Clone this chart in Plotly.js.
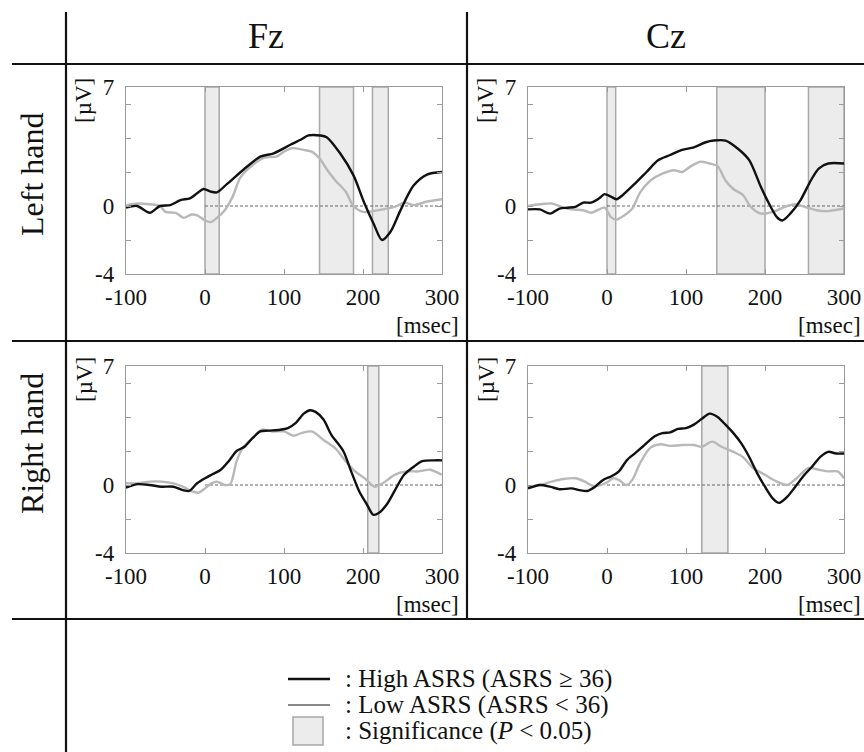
<!DOCTYPE html>
<html>
<head>
<meta charset="utf-8">
<script src="https://cdn.plot.ly/plotly-3.0.1.min.js"></script>
<style>
html,body{margin:0;padding:0;background:#fff;}
#chart{width:864px;height:752px;}
</style>
</head>
<body>
<div id="chart"></div>
<script>
// ---------- DATA ----------
const columnLabels = ["Fz", "Cz"];
const rowLabels = ["Left hand", "Right hand"];
const xTicks = [-100, 0, 100, 200, 300];
const yTicks = [-4, -2, 0, 2, 4, 6, 7];
const yTickText = ["-4", "", "0", "", "", "", "7"];

// Fz, Left hand
const fzLeftHighT = [-100,-86,-70,-57,-44,-31,-19,-10,-2,7,15,28,49,70,87,108,121,131,146,154,171,188,201,214,224,235,247,264,281,300];
const fzLeftHighV = [-0.1,0.0,-0.4,0,0.05,0.35,0.45,0.75,1.0,0.85,0.8,1.3,2.15,2.9,3.1,3.6,3.9,4.15,4.15,4.05,3.1,1.8,0.25,-1.1,-2.0,-1.5,-0.3,1.2,1.85,2.0];
const fzLeftLowT = [-100,-85,-70,-57,-50,-37,-27,-17,-10,0,7,15,25,35,45,60,75,90,100,110,125,135,145,155,165,178,188,200,212,225,240,252,265,280,300];
const fzLeftLowV = [0.05,0.15,0.1,0,-0.35,-0.4,-0.7,-0.5,-0.55,-0.85,-0.95,-0.7,-0.25,0.55,1.7,2.4,2.85,2.9,3.2,3.4,3.3,3.2,2.8,2.1,1.5,0.85,0,-0.35,-0.3,-0.2,-0.05,0.2,0.05,0.25,0.4];
const fzLeftSigStart = [0, 145, 212];
const fzLeftSigEnd = [18, 188, 232];

// Cz, Left hand
const czLeftHighT = [-100,-85,-72,-60,-50,-40,-30,-20,-10,-3,5,12,20,35,50,65,80,95,110,125,135,150,165,180,195,205,215,222,232,245,258,268,280,300];
const czLeftHighV = [-0.2,-0.2,-0.45,-0.15,-0.1,-0.05,0.2,0.2,0.45,0.7,0.55,0.4,0.65,1.3,2.0,2.7,3.0,3.3,3.45,3.75,3.85,3.85,3.4,2.7,1.1,0.15,-0.65,-0.85,-0.45,0.35,1.5,2.2,2.5,2.5];
const czLeftLowT = [-100,-85,-70,-58,-45,-30,-20,-10,-3,5,12,22,32,42,55,70,85,95,105,118,130,140,150,160,172,182,195,210,225,238,250,265,280,300];
const czLeftLowV = [0,0.1,0.15,-0.05,-0.2,-0.25,-0.4,-0.2,-0.1,-0.65,-0.8,-0.55,-0.15,0.8,1.5,1.9,2.1,2.0,2.3,2.6,2.5,2.35,1.5,1.0,0.65,-0.05,-0.45,-0.35,-0.05,0.1,-0.05,-0.25,-0.3,-0.15];
const czLeftSigStart = [0, 139, 255];
const czLeftSigEnd = [11, 200, 300];

// Fz, Right hand
const fzRightHighT = [-100,-85,-70,-55,-40,-28,-20,-10,0,10,20,30,40,50,60,70,80,95,105,115,125,133,140,150,160,175,185,195,205,213,220,230,240,252,265,275,290,300];
const fzRightHighV = [-0.15,0.05,0,-0.1,-0.1,-0.3,-0.35,0.1,0.4,0.65,0.9,1.4,2.0,2.25,2.75,3.15,3.2,3.25,3.35,3.65,4.2,4.4,4.3,3.85,2.95,2.0,0.8,-0.35,-1.15,-1.75,-1.65,-1.15,-0.35,0.6,1.1,1.4,1.45,1.45];
const fzRightLowT = [-100,-85,-70,-55,-40,-28,-18,-8,0,8,15,25,32,40,48,60,72,85,100,112,122,135,150,165,178,190,202,215,225,240,255,270,285,300];
const fzRightLowV = [0.1,0.1,0.2,0.2,0.1,-0.1,-0.35,-0.45,-0.2,0.1,0.2,0,0.05,1.4,2.2,2.75,3.25,3.15,3.15,2.9,3.05,3.15,2.65,2.15,1.4,0.8,0.4,-0.1,0.1,0.6,0.8,0.8,0.9,0.6];
const fzRightSigStart = [206];
const fzRightSigEnd = [220];

// Cz, Right hand
const czRightHighT = [-100,-85,-72,-60,-45,-35,-25,-15,-5,5,15,25,35,45,60,70,80,90,100,110,120,130,140,150,160,170,180,190,200,210,218,228,240,250,260,270,280,290,300];
const czRightHighV = [-0.2,0,-0.1,-0.25,-0.2,-0.3,-0.35,-0.1,0.3,0.5,0.8,1.45,1.85,2.25,2.85,3.05,3.1,3.3,3.35,3.55,3.9,4.2,4.0,3.55,3.05,2.45,1.65,0.7,-0.1,-0.8,-1.05,-0.7,0,0.6,1.1,1.65,1.95,1.85,1.85];
const czRightLowT = [-100,-85,-70,-55,-40,-28,-18,-8,0,8,15,25,32,42,55,68,80,95,110,120,133,145,160,172,185,200,215,228,240,255,268,280,292,300];
const czRightLowV = [-0.1,0,0.2,0.35,0.4,0.2,-0.05,0,0.15,0.4,0.3,0,0.3,1.3,2.2,2.4,2.3,2.35,2.35,2.25,2.55,2.25,1.95,1.65,1.0,0.6,0.2,0,0.4,1.0,0.9,0.8,0.8,0.4];
const czRightSigStart = [120];
const czRightSigEnd = [153];

const legendLabels = [": High ASRS (ASRS \u2265 36)", ": Low ASRS (ASRS < 36)", ": Significance (<i>P</i> < 0.05)"];

// ---------- LAYOUT HELPERS ----------
const W = 864, H = 752;
const px = v => v / W;
const py = v => 1 - v / H;
const FONT = "'Liberation Serif', 'Times New Roman', serif";
const HIGH_COLOR = "#111111";
const LOW_COLOR = "#b8b8b8";
const SIG_FILL = "#ececec";
const SIG_LINE = "#a8a8a8";
const FRAME = "#9a9a9a";
const TICK_SIZE = 23;

const panels = [
  {ax: "", highT: fzLeftHighT, highV: fzLeftHighV, lowT: fzLeftLowT, lowV: fzLeftLowV, s0: fzLeftSigStart, s1: fzLeftSigEnd, xd: [126, 442], yd: [87, 274]},
  {ax: "2", highT: czLeftHighT, highV: czLeftHighV, lowT: czLeftLowT, lowV: czLeftLowV, s0: czLeftSigStart, s1: czLeftSigEnd, xd: [528, 844], yd: [87, 274]},
  {ax: "3", highT: fzRightHighT, highV: fzRightHighV, lowT: fzRightLowT, lowV: fzRightLowV, s0: fzRightSigStart, s1: fzRightSigEnd, xd: [126, 442], yd: [366, 553]},
  {ax: "4", highT: czRightHighT, highV: czRightHighV, lowT: czRightLowT, lowV: czRightLowV, s0: czRightSigStart, s1: czRightSigEnd, xd: [528, 844], yd: [366, 553]}
];

const traces = [];
const shapes = [];
const annotations = [];
const layout = {
  width: W, height: H,
  margin: {l: 0, r: 0, t: 0, b: 0},
  paper_bgcolor: "#fff", plot_bgcolor: "#fff",
  showlegend: false,
  font: {family: FONT, color: "#111", size: TICK_SIZE}
};

panels.forEach(p => {
  const xa = "x" + p.ax, ya = "y" + p.ax;
  traces.push({x: p.lowT, y: p.lowV, xaxis: xa, yaxis: ya, type: "scatter", mode: "lines",
    line: {color: LOW_COLOR, width: 2.4, shape: "spline", smoothing: 0.8}, hoverinfo: "skip"});
  traces.push({x: p.highT, y: p.highV, xaxis: xa, yaxis: ya, type: "scatter", mode: "lines",
    line: {color: HIGH_COLOR, width: 2.4, shape: "spline", smoothing: 0.8}, hoverinfo: "skip"});
  p.s0.forEach((s, i) => {
    shapes.push({type: "rect", xref: xa, yref: ya + " domain", x0: s, x1: p.s1[i], y0: 0, y1: 1,
      fillcolor: SIG_FILL, line: {color: SIG_LINE, width: 1.5}, layer: "below"});
  });
  shapes.push({type: "line", xref: xa, yref: ya, x0: 0, x1: 300, y0: 0, y1: 0,
    line: {color: "#666", width: 1, dash: "3px,2px"}, layer: "below"});
  layout["xaxis" + p.ax] = {
    domain: [px(p.xd[0]), px(p.xd[1])], anchor: ya, range: [-100, 300],
    tickmode: "array", tickvals: xTicks, ticktext: xTicks.map(String),
    ticks: "inside", ticklen: 5, tickcolor: FRAME, tickwidth: 1,
    showline: true, linecolor: FRAME, linewidth: 1.2, mirror: "ticks",
    showgrid: false, zeroline: false, ticklabelstandoff: 2,
    tickfont: {family: FONT, size: TICK_SIZE, color: "#111"}, fixedrange: true
  };
  layout["yaxis" + p.ax] = {
    domain: [py(p.yd[1]), py(p.yd[0])], anchor: xa, range: [-4, 7],
    tickmode: "array", tickvals: yTicks, ticktext: yTickText,
    ticks: "inside", ticklen: 5, tickcolor: FRAME, tickwidth: 1,
    showline: true, linecolor: FRAME, linewidth: 1.2, mirror: "ticks",
    showgrid: false, zeroline: false, ticklabelstandoff: 6,
    tickfont: {family: FONT, size: TICK_SIZE, color: "#111"}, fixedrange: true
  };
  // unit labels
  annotations.push({xref: "paper", yref: "paper", x: px(p.xd[0] - 42), y: py(p.yd[0] + 14),
    text: "[\u00b5V]", textangle: -90, showarrow: false, xanchor: "center", yanchor: "middle",
    font: {family: FONT, size: 23, color: "#111"}});
  annotations.push({xref: "paper", yref: "paper", x: px(p.xd[1] + 19), y: py(p.yd[1] + 51),
    text: "[msec]", showarrow: false, xanchor: "right", yanchor: "middle",
    font: {family: FONT, size: 23, color: "#111"}});
});

// table grid lines
const gridLines = [
  [12, 64, 864, 64], [12, 341, 864, 341], [12, 619, 864, 619],
  [66, 12, 66, 752], [467, 12, 467, 619]
];
gridLines.forEach(g => shapes.push({type: "line", xref: "paper", yref: "paper",
  x0: px(g[0]), y0: py(g[1]), x1: px(g[2]), y1: py(g[3]), line: {color: "#111", width: 2.2}}));

// headers
annotations.push({xref: "paper", yref: "paper", x: px(266), y: py(36), text: columnLabels[0], showarrow: false,
  font: {family: FONT, size: 36, color: "#111"}, xanchor: "center", yanchor: "middle"});
annotations.push({xref: "paper", yref: "paper", x: px(666), y: py(36), text: columnLabels[1], showarrow: false,
  font: {family: FONT, size: 36, color: "#111"}, xanchor: "center", yanchor: "middle"});
annotations.push({xref: "paper", yref: "paper", x: px(32), y: py(174), text: rowLabels[0], showarrow: false, textangle: -90,
  font: {family: FONT, size: 32, color: "#111"}, xanchor: "center", yanchor: "middle"});
annotations.push({xref: "paper", yref: "paper", x: px(32), y: py(444), text: rowLabels[1], showarrow: false, textangle: -90,
  font: {family: FONT, size: 32, color: "#111"}, xanchor: "center", yanchor: "middle"});

// legend
const legRows = [679, 705, 731];
shapes.push({type: "line", xref: "paper", yref: "paper", x0: px(288), x1: px(330), y0: py(legRows[0]), y1: py(legRows[0]),
  line: {color: HIGH_COLOR, width: 2.4}});
shapes.push({type: "line", xref: "paper", yref: "paper", x0: px(288), x1: px(330), y0: py(legRows[1]), y1: py(legRows[1]),
  line: {color: "#8a8a8a", width: 2}});
shapes.push({type: "rect", xref: "paper", yref: "paper", x0: px(293), x1: px(323), y0: py(legRows[2] + 14), y1: py(legRows[2] - 14),
  fillcolor: SIG_FILL, line: {color: SIG_LINE, width: 1.5}});
legendLabels.forEach((t, i) => annotations.push({xref: "paper", yref: "paper", x: px(343), y: py(legRows[i]), text: t,
  showarrow: false, xanchor: "left", yanchor: "middle", font: {family: FONT, size: 25, color: "#111"}}));

layout.shapes = shapes;
layout.annotations = annotations;

Plotly.newPlot("chart", traces, layout, {staticPlot: true, displayModeBar: false});
</script>
</body>
</html>
